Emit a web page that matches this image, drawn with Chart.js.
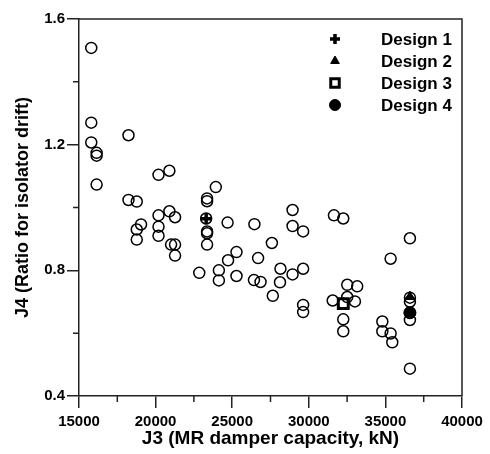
<!DOCTYPE html>
<html>
<head>
<meta charset="utf-8">
<script src="https://cdn.jsdelivr.net/npm/chart.js@4.4.0/dist/chart.umd.min.js"></script>
<style>
    html, body { margin: 0; padding: 0; background: #fff; }
</style>
</head>
<body>
<canvas id="myChart" width="490" height="454"></canvas>
<script>
// every candidate design: MR damper capacity (kN) and isolator drift ratio
const capacity = [
    15800, 15800, 15800, 16150, 16150, 16150, 18230, 20190, 20900, 18230,
    18770, 19050, 18770, 18770, 20190, 20900, 21270, 20190, 20190, 21010,
    21270, 21270, 22850, 23360, 23360, 23300, 23360, 23360, 23360, 23930,
    24130, 24130, 24700, 24730, 25280, 25280, 26450, 26420, 26850, 26690,
    27590, 28940, 28940, 29630, 28150, 28940, 29630, 28120, 27650, 29630,
    29630, 31640, 32250, 32510, 33160, 31560, 32510, 33010, 32250, 32250,
    32250, 34800, 34800, 35340, 35450, 35340, 36600, 36600, 36600, 36600,
    36600, 36600
];
const driftRatio = [
    1.508, 1.270, 1.207, 1.174, 1.165, 1.073, 1.230, 1.104, 1.117, 1.024,
    1.019, 0.946, 0.930, 0.898, 0.975, 0.988, 0.969, 0.939, 0.910, 0.882,
    0.882, 0.847, 0.792, 1.029, 1.020, 0.965, 0.924, 0.918, 0.882, 1.065,
    0.800, 0.768, 0.952, 0.832, 0.858, 0.782, 0.947, 0.769, 0.763, 0.839,
    0.887, 0.992, 0.941, 0.924, 0.805, 0.787, 0.805, 0.762, 0.719, 0.690,
    0.667, 0.975, 0.965, 0.754, 0.749, 0.704, 0.715, 0.701, 0.694, 0.644,
    0.606, 0.637, 0.606, 0.599, 0.571, 0.837, 0.902, 0.713, 0.700, 0.665,
    0.642, 0.487
];

// the four highlighted designs
const designNames = ['Design 1', 'Design 2', 'Design 3', 'Design 4'];
const designCapacity = [23300, 36600, 32250, 36600];
const designRatio = [0.964, 0.716, 0.694, 0.665];

const xTicks = [15000, 20000, 25000, 30000, 35000, 40000];
const yTicks = [0.4, 0.8, 1.2, 1.6];
const xMinorTicks = [17500, 22500, 27500, 32500, 37500];
const yMinorTicks = [0.6, 1.0, 1.4];

const FONT = '"Liberation Sans", Arial, Helvetica, sans-serif';
const INK = '#000';
const AXIS = '#222';

Chart.defaults.font.family = FONT;
Chart.defaults.font.weight = 'bold';
Chart.defaults.color = INK;

const points = capacity.map((c, i) => ({ x: c, y: driftRatio[i] }));

const designStyles = [
    { pointStyle: 'cross', radius: 5.5, borderWidth: 3.5, fill: 'rgba(0,0,0,0)' },
    { pointStyle: 'triangle', radius: 5.5, borderWidth: 1, fill: INK },
    { pointStyle: 'rect', radius: 7, borderWidth: 3, fill: 'rgba(0,0,0,0)' },
    { pointStyle: 'circle', radius: 6, borderWidth: 1, fill: INK }
];

const designSets = designNames.map((name, i) => ({
    label: name,
    data: [{ x: designCapacity[i], y: designRatio[i] }],
    pointStyle: designStyles[i].pointStyle,
    pointRadius: designStyles[i].radius,
    pointBorderWidth: designStyles[i].borderWidth,
    borderColor: INK,
    backgroundColor: designStyles[i].fill
}));

// top/right frame lines and the short minor ticks
const framePlugin = {
    id: 'frame',
    afterDraw(chart) {
        const { ctx, chartArea: a, scales: { x, y } } = chart;
        ctx.save();
        ctx.strokeStyle = AXIS;
        ctx.lineWidth = 1.5;
        ctx.beginPath();
        ctx.moveTo(a.left, a.top);
        ctx.lineTo(a.right, a.top);
        ctx.lineTo(a.right, a.bottom);
        xMinorTicks.forEach(v => {
            const px = x.getPixelForValue(v);
            ctx.moveTo(px, a.bottom);
            ctx.lineTo(px, a.bottom + 6);
        });
        yMinorTicks.forEach(v => {
            const py = y.getPixelForValue(v);
            ctx.moveTo(a.left, py);
            ctx.lineTo(a.left - 6, py);
        });
        ctx.stroke();
        ctx.restore();
    }
};

// legend for the designs, stacked in the upper right of the plot
const designLegend = {
    id: 'designLegend',
    afterDatasetsDraw(chart) {
        const { ctx, chartArea: a } = chart;
        ctx.save();
        ctx.font = 'bold 17px ' + FONT;
        ctx.textBaseline = 'alphabetic';
        ctx.textAlign = 'left';
        designSets.forEach((ds, i) => {
            const st = designStyles[i];
            const cy = a.top + 20 + i * 22;
            ctx.fillStyle = st.fill;
            ctx.strokeStyle = INK;
            ctx.lineWidth = st.borderWidth;
            Chart.helpers.drawPoint(ctx, {
                pointStyle: st.pointStyle,
                radius: st.pointStyle === 'rect' ? 6 : st.radius - 0.5,
                borderWidth: st.borderWidth,
                rotation: 0
            }, a.right - 127, cy);
            ctx.fillStyle = INK;
            ctx.fillText(ds.label, a.right - 81, cy + 6);
        });
        ctx.restore();
    }
};

const ctx = document.getElementById('myChart').getContext('2d');

const myChart = new Chart(ctx, {
    type: 'scatter',
    data: {
        datasets: [
            {
                label: 'Designs',
                data: points,
                pointStyle: 'circle',
                pointRadius: 5.5,
                pointBorderWidth: 1.5,
                borderColor: INK,
                backgroundColor: 'rgba(0,0,0,0)'
            },
            ...designSets
        ]
    },
    options: {
        responsive: false,
        animation: false,
        events: [],
        layout: { padding: { top: 19, right: 28, left: 0, bottom: 0 } },
        plugins: {
            legend: { display: false },
            tooltip: { enabled: false }
        },
        scales: {
            x: {
                type: 'linear',
                min: 15000,
                max: 40000,
                afterBuildTicks: s => { s.ticks = xTicks.map(v => ({ value: v })); },
                afterFit: s => { s.height = 58; },
                ticks: {
                    callback: v => String(v),
                    padding: 5,
                    maxRotation: 0,
                    autoSkip: false,
                    font: { size: 15, weight: 'bold' }
                },
                grid: { drawOnChartArea: false, tickLength: 12, color: AXIS, lineWidth: 1.5 },
                border: { color: AXIS, width: 1.5 },
                title: {
                    display: true,
                    text: 'J3 (MR damper capacity, kN)',
                    font: { size: 19, weight: 'bold' },
                    padding: { top: 0, bottom: 4 }
                }
            },
            y: {
                type: 'linear',
                min: 0.4,
                max: 1.6,
                afterBuildTicks: s => { s.ticks = yTicks.map(v => ({ value: v })); },
                afterFit: s => { s.width = 79; },
                ticks: {
                    callback: v => v.toFixed(1),
                    padding: 2,
                    font: { size: 15, weight: 'bold' }
                },
                grid: { drawOnChartArea: false, tickLength: 12, color: AXIS, lineWidth: 1.5 },
                border: { color: AXIS, width: 1.5 },
                title: {
                    display: true,
                    text: 'J4 (Ratio for isolator drift)',
                    font: { size: 18, weight: 'bold' },
                    padding: { top: 12, bottom: 0 }
                }
            }
        }
    },
    plugins: [framePlugin, designLegend]
});
</script>
</body>
</html>
